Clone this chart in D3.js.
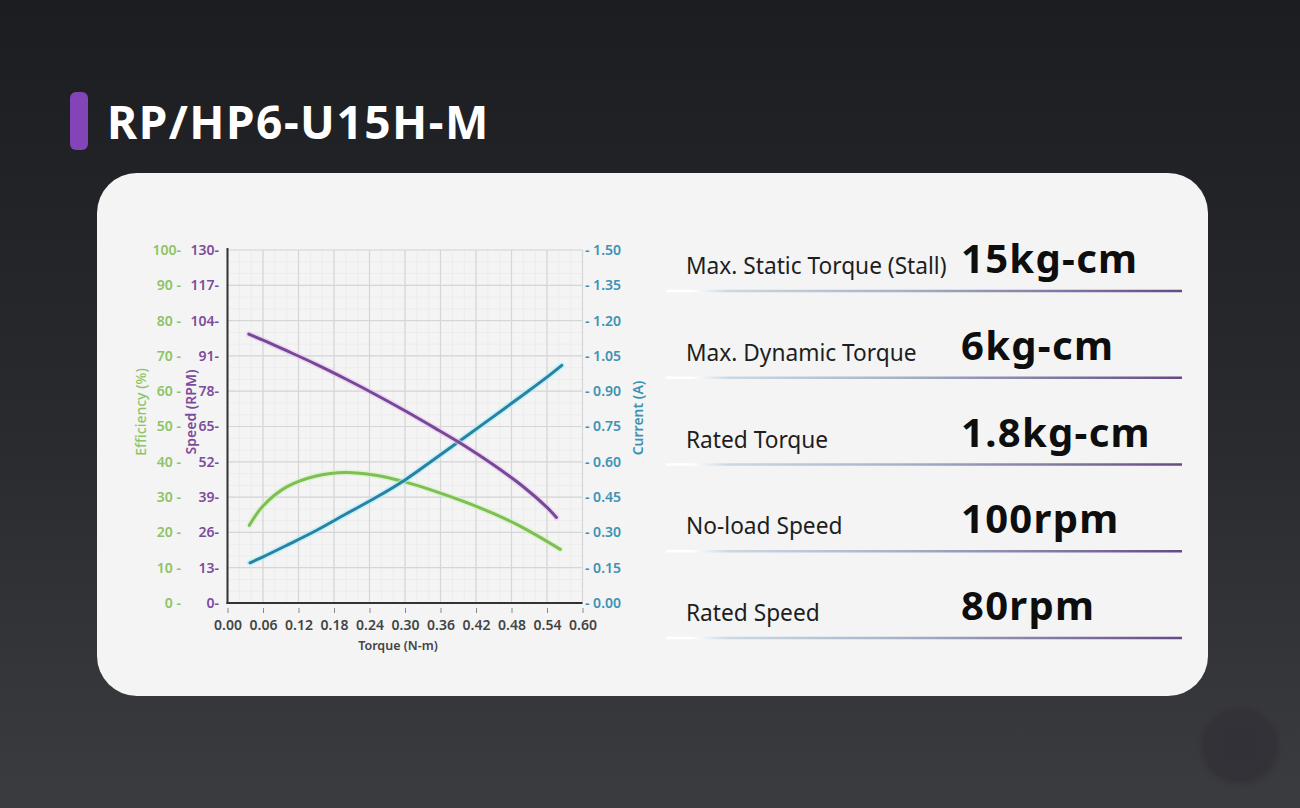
<!DOCTYPE html>
<html><head><meta charset="utf-8">
<script src="https://cdn.jsdelivr.net/npm/d3@7/dist/d3.min.js"></script>
<style>
html,body{margin:0;padding:0;background:#2a2b2e;}
svg{display:block;}
</style></head>
<body>
<svg id="c" width="1300" height="808"></svg>
<script>
// ---- data ----
const title = "RP/HP6-U15H-M";
const torqueTicks = [0,0.06,0.12,0.18,0.24,0.30,0.36,0.42,0.48,0.54,0.60];
const efficiencyTicks = [0,10,20,30,40,50,60,70,80,90,100];
const speedTicks = [0,13,26,39,52,65,78,91,104,117,130];
const currentTicks = [0,0.15,0.30,0.45,0.60,0.75,0.90,1.05,1.20,1.35,1.50];

const speedTorque = [0.036,0.06,0.10,0.15,0.20,0.25,0.30,0.35,0.40,0.45,0.50,0.54,0.556];
const speedValues = [99,96.8,92.9,87.9,82.5,76.8,70.8,64.5,58.0,50.8,42.8,35.2,31.5];

const currentTorque = [0.038,0.06,0.10,0.15,0.20,0.25,0.30,0.35,0.40,0.45,0.50,0.54,0.565];
const currentValues = [0.171,0.196,0.245,0.308,0.378,0.447,0.523,0.612,0.702,0.793,0.885,0.960,1.010];

const effTorque = [0.037,0.06,0.10,0.15,0.20,0.25,0.30,0.35,0.40,0.45,0.50,0.5625];
const effValues = [22.0,27.5,32.9,36.0,37.0,36.2,34.3,31.7,28.7,25.3,21.3,15.2];

const specLabels = ["Max. Static Torque (Stall)","Max. Dynamic Torque","Rated Torque","No-load Speed","Rated Speed"];
const specValues = ["15kg-cm","6kg-cm","1.8kg-cm","100rpm","80rpm"];

// ---- drawing ----
const svg = d3.select("#c");
const defs = svg.append("defs");
const bg = defs.append("linearGradient").attr("id","bg").attr("x1",0).attr("y1",0).attr("x2",0).attr("y2",1);
bg.append("stop").attr("offset","0%").attr("stop-color","#1c1d20");
bg.append("stop").attr("offset","55%").attr("stop-color","#2a2b2e");
bg.append("stop").attr("offset","100%").attr("stop-color","#3b3c40");
svg.append("rect").attr("width",1300).attr("height",808).attr("fill","url(#bg)");

// faint decorative circle
const cg = defs.append("radialGradient").attr("id","cg");
cg.append("stop").attr("offset","0%").attr("stop-color","#323137");
cg.append("stop").attr("offset","75%").attr("stop-color","#333238");
cg.append("stop").attr("offset","100%").attr("stop-color","#3a3b3f").attr("stop-opacity",0);
svg.append("circle").attr("cx",1240).attr("cy",745).attr("r",48).attr("fill","url(#cg)");

// title
svg.append("rect").attr("x",70).attr("y",92).attr("width",18).attr("height",58).attr("rx",6)
  .attr("fill","#8344b8");
svg.append("text").attr("x",107).attr("y",139).text(title)
  .attr("font-family","Noto Sans, Open Sans, sans-serif").attr("font-weight",700)
  .attr("font-size",46).attr("fill","#ffffff").attr("letter-spacing",1.5);

// card
svg.append("rect").attr("x",97).attr("y",173).attr("width",1111).attr("height",523).attr("rx",40)
  .attr("fill","#f4f4f4");

// scales
const x = d3.scaleLinear().domain([0,0.6]).range([227.5,582.5]);
const yEff = d3.scaleLinear().domain([0,100]).range([603,250]);
const ySpd = d3.scaleLinear().domain([0,130]).range([603,250]);
const yCur = d3.scaleLinear().domain([0,1.5]).range([603,250]);

const font = "Noto Sans, Open Sans, sans-serif";
const g = svg.append("g");

// minor grid
const minorX = d3.range(0,0.6001,0.02);
const minorY = d3.range(0,130.001,13/3);
g.append("g").selectAll("line").data(minorX).join("line")
  .attr("x1",d=>x(d)).attr("x2",d=>x(d)).attr("y1",250).attr("y2",603)
  .attr("stroke","#ececec").attr("stroke-width",1);
g.append("g").selectAll("line").data(minorY).join("line")
  .attr("y1",d=>ySpd(d)).attr("y2",d=>ySpd(d)).attr("x1",227.5).attr("x2",582.5)
  .attr("stroke","#ececec").attr("stroke-width",1);
// major grid
g.append("g").selectAll("line").data(torqueTicks).join("line")
  .attr("x1",d=>x(d)).attr("x2",d=>x(d)).attr("y1",250).attr("y2",603)
  .attr("stroke","#d6d6d6").attr("stroke-width",1.2);
g.append("g").selectAll("line").data(speedTicks).join("line")
  .attr("y1",d=>ySpd(d)).attr("y2",d=>ySpd(d)).attr("x1",227.5).attr("x2",582.5)
  .attr("stroke","#d6d6d6").attr("stroke-width",1.2);

// axes
const xAxis = d3.axisBottom(x).tickValues(torqueTicks).tickFormat(d3.format(".2f")).tickSize(5).tickPadding(7);
const gx = g.append("g").attr("transform","translate(0,608)").call(xAxis);
gx.select(".domain").remove();
gx.selectAll(".tick line").attr("stroke","#888").attr("stroke-width",1);
gx.selectAll("text").attr("font-family",font).attr("font-size",14).attr("font-weight",600).attr("fill","#444");

const ySpdAxis = d3.axisLeft(ySpd).tickValues(speedTicks).tickSize(0).tickPadding(0).tickFormat(d=>d+"-");
const gs = g.append("g").attr("transform","translate(219,0)").call(ySpdAxis);
gs.select(".domain").remove();
gs.selectAll("text").attr("font-family",font).attr("font-size",14).attr("font-weight",600).attr("fill","#7c4c9c");

const yEffAxis = d3.axisLeft(yEff).tickValues(efficiencyTicks).tickSize(0).tickPadding(0).tickFormat(d=>d===100?"100-":d+" -");
const ge = g.append("g").attr("transform","translate(181,0)").call(yEffAxis);
ge.select(".domain").remove();
ge.selectAll("text").attr("font-family",font).attr("font-size",14).attr("font-weight",600).attr("fill","#8cc466");

const yCurAxis = d3.axisRight(yCur).tickValues(currentTicks).tickSize(0).tickPadding(0).tickFormat(d=>"- "+d3.format(".2f")(d));
const gc = g.append("g").attr("transform","translate(585,0)").call(yCurAxis);
gc.select(".domain").remove();
gc.selectAll("text").attr("font-family",font).attr("font-size",14).attr("font-weight",600).attr("fill","#3c93b4");

// axis lines
g.append("line").attr("x1",227.5).attr("x2",227.5).attr("y1",248).attr("y2",604).attr("stroke","#333").attr("stroke-width",2);
g.append("line").attr("x1",226.5).attr("x2",582.5).attr("y1",603).attr("y2",603).attr("stroke","#333").attr("stroke-width",2);

// axis titles
function vtitle(txt,cx,cy,color,w){
  g.append("text").attr("transform",`translate(${cx},${cy}) rotate(-90)`).attr("text-anchor","middle")
   .attr("font-family",font).attr("font-size",14).attr("font-weight",w).attr("fill",color).text(txt);
}
vtitle("Efficiency (%)",146,412,"#8cc466",500);
vtitle("Speed (RPM)",196,412,"#7c4c9c",600);
vtitle("Current (A)",643,418,"#3c93b4",600);
g.append("text").attr("x",398).attr("y",650).attr("text-anchor","middle")
  .attr("font-family",font).attr("font-size",12.5).attr("font-weight",600).attr("fill","#444").text("Torque (N-m)");

// curves
const curve = d3.curveCatmullRom.alpha(0.5);
function drawLine(xs, ys, yScale, color, halo){
  const pts = xs.map((t,i)=>[x(t), yScale(ys[i])]);
  const line = d3.line().curve(curve);
  g.append("path").attr("d",line(pts)).attr("fill","none").attr("stroke",halo)
    .attr("stroke-width",6).attr("stroke-linecap","round").attr("opacity",0.6);
  g.append("path").attr("d",line(pts)).attr("fill","none").attr("stroke",color)
    .attr("stroke-width",3).attr("stroke-linecap","round");
}
drawLine(effTorque, effValues, yEff, "#7cbf52", "#d4f0c0");
drawLine(currentTorque, currentValues, yCur, "#2a82a2", "#a8eefc");
drawLine(speedTorque, speedValues, ySpd, "#774898", "#e7c8f0");

// specs
const lg = defs.append("linearGradient").attr("id","ln").attr("gradientUnits","userSpaceOnUse")
  .attr("x1",666).attr("x2",1182).attr("y1",0).attr("y2",0);
lg.append("stop").attr("offset","0%").attr("stop-color","#ffffff");
lg.append("stop").attr("offset","5%").attr("stop-color","#ffffff");
lg.append("stop").attr("offset","12%").attr("stop-color","#cbd9e4");
lg.append("stop").attr("offset","45%").attr("stop-color","#a6b3c8");
lg.append("stop").attr("offset","100%").attr("stop-color","#654a86");

const rowY = d3.scaleLinear().domain([0,4]).range([291,638]);
const sg = svg.append("g");
sg.selectAll("line").data(specLabels).join("line")
  .attr("x1",666).attr("x2",1182).attr("y1",(d,i)=>rowY(i)).attr("y2",(d,i)=>rowY(i))
  .attr("stroke","url(#ln)").attr("stroke-width",2.4);
sg.selectAll("text.lab").data(specLabels).join("text").attr("class","lab")
  .attr("x",686).attr("y",(d,i)=>rowY(i)-17).text(d=>d)
  .attr("font-family",font).attr("font-size",22.7).attr("fill","#1e1e1e");
sg.selectAll("text.val").data(specValues).join("text").attr("class","val")
  .attr("x",961).attr("y",(d,i)=>rowY(i)-18).text(d=>d)
  .attr("font-family",font).attr("font-size",40).attr("font-weight",700).attr("fill","#0e0e0e")
  .attr("letter-spacing",1.3);
</script>
</body></html>
